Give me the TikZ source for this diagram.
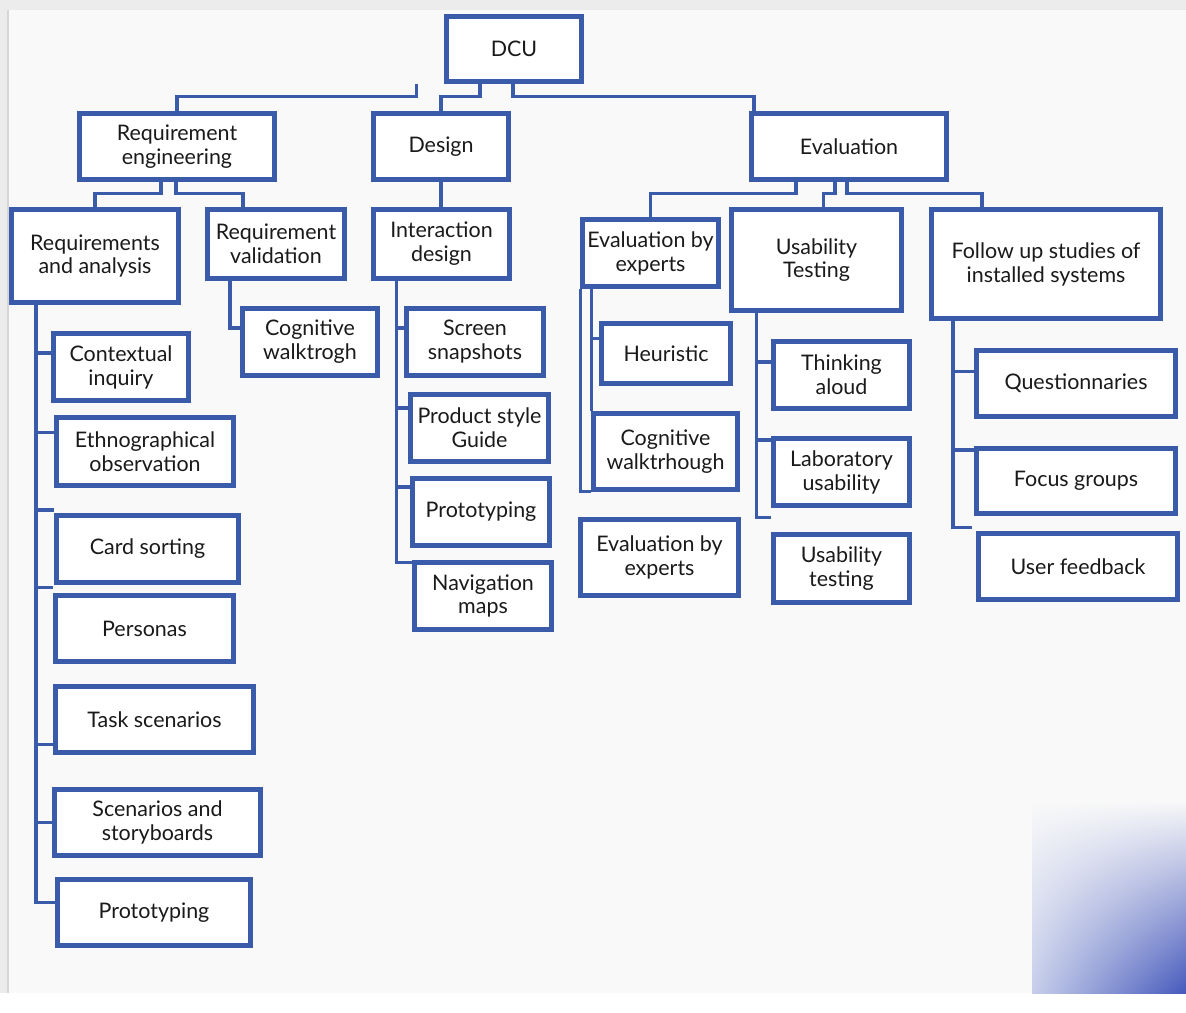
\documentclass[tikz,border=0pt]{standalone}
\usepackage{fontspec}
\setmainfont{Lato}
\usetikzlibrary{calc,shadings}

\definecolor{dcuBlue}{HTML}{3A5BA9}
\definecolor{dcuText}{HTML}{1A1A1A}
\definecolor{bgGray}{HTML}{ECECEC}
\definecolor{bgInner}{HTML}{F9F9F9}
\definecolor{bgEdge}{HTML}{D6D6D6}
\definecolor{cornerBlue}{HTML}{4659BC}
\definecolor{cornerPale}{HTML}{C6CEEA}

\tikzset{
  box/.style={draw=dcuBlue, line width=2.4pt, fill=white, align=center,
    inner sep=1pt, text=dcuText, font=\fontsize{12.2}{13.6}\selectfont},
  link/.style={draw=dcuBlue, line width=2pt},
}

\begin{document}
\begin{tikzpicture}[x=0.02cm,y=-0.02cm]
\useasboundingbox (0,0) rectangle (1186,1012);
% page behind the chart
\fill[white] (0,0) rectangle (1186,1012);
\fill[bgGray] (0,0) rectangle (1186,993);
\fill[bgInner] (8,10) rectangle (1186,993);
\draw[bgEdge, line width=1.2pt] (8,10) -- (8,993);
\shade[upper left=bgInner, upper right=bgInner, lower left=cornerPale, lower right=cornerBlue]
  (1032,800) rectangle (1186,993);

% top levels
\node[box, minimum width=2.70cm, minimum height=1.30cm] (dcu) at (514,49) {DCU};
\node[box, minimum width=3.90cm, minimum height=1.32cm] (reqeng) at (177,146.5) {Requirement\\engineering};
\node[box, minimum width=2.70cm, minimum height=1.32cm] (design) at (441,146.5) {Design};
\node[box, minimum width=3.90cm, minimum height=1.32cm] (eval) at (849,146.5) {Evaluation};

\node[box, minimum width=3.34cm, minimum height=1.86cm] (reqan) at (95,256) {Requirements\\and analysis};
\node[box, minimum width=2.74cm, minimum height=1.38cm] (reqval) at (276,244) {Requirement\\validation};
\node[box, minimum width=2.72cm, minimum height=1.38cm] (intdes) at (441.5,244) {Interaction\\design};
\node[box, minimum width=2.72cm, minimum height=1.34cm] (expA) at (650.5,253) {Evaluation by\\experts};
\node[box, minimum width=3.40cm, minimum height=2.02cm] (usab) at (816.5,260) {Usability\\Testing};
\node[box, minimum width=4.58cm, minimum height=2.18cm] (follow) at (1046,264) {Follow up studies of\\installed systems};

% requirements and analysis
\node[box, minimum width=2.70cm, minimum height=1.34cm] (ctxinq) at (121,367) {Contextual\\inquiry};
\node[box, minimum width=3.54cm, minimum height=1.36cm] (ethno) at (145,451.5) {Ethnographical\\observation};
\node[box, minimum width=3.64cm, minimum height=1.34cm] (card) at (147.5,549) {Card sorting};
\node[box, minimum width=3.56cm, minimum height=1.32cm] (personas) at (144.5,628.5) {Personas};
\node[box, minimum width=3.96cm, minimum height=1.32cm] (task) at (154.5,719.5) {Task scenarios};
\node[box, minimum width=4.12cm, minimum height=1.32cm] (scen) at (157.5,822.5) {Scenarios and\\storyboards};
\node[box, minimum width=3.86cm, minimum height=1.32cm] (protoA) at (154,912.5) {Prototyping};

\node[box, minimum width=2.70cm, minimum height=1.34cm] (cogA) at (310,342) {Cognitive\\walktrogh};

% interaction design
\node[box, minimum width=2.74cm, minimum height=1.34cm] (screen) at (475,342) {Screen\\snapshots};
\node[box, minimum width=2.76cm, minimum height=1.34cm] (style) at (479.5,428) {Product style\\Guide};
\node[box, minimum width=2.74cm, minimum height=1.34cm] (protoB) at (481,512) {Prototyping};
\node[box, minimum width=2.74cm, minimum height=1.34cm] (navmap) at (483,596) {Navigation\\maps};

% evaluation
\node[box, minimum width=2.58cm, minimum height=1.20cm] (heur) at (666,353.5) {Heuristic};
\node[box, minimum width=2.88cm, minimum height=1.52cm] (cogB) at (665.5,451.5) {Cognitive\\walktrhough};
\node[box, minimum width=3.16cm, minimum height=1.52cm] (expB) at (659.5,557.5) {Evaluation by\\experts};
\node[box, minimum width=2.72cm, minimum height=1.34cm] (think) at (841.5,375) {Thinking\\aloud};
\node[box, minimum width=2.72cm, minimum height=1.34cm] (lab) at (841.5,472) {Laboratory\\usability};
\node[box, minimum width=2.72cm, minimum height=1.36cm] (usabB) at (841.5,568.5) {Usability\\testing};
\node[box, minimum width=3.98cm, minimum height=1.32cm] (quest) at (1076,383.5) {Questionnaries};
\node[box, minimum width=3.98cm, minimum height=1.30cm] (focus) at (1076,481) {Focus groups};
\node[box, minimum width=3.98cm, minimum height=1.32cm] (userfb) at (1078,566.5) {User feedback};

% elbows from the root
\coordinate (dcuL) at ($(dcu.south west)+(-28,0)$);
\draw[link] (dcuL) -- ++(0,13) -| (reqeng.north);
\draw[link] ($(dcu.south)+(-34,0)$) -- ++(0,13) -| (design.north);
\draw[link] ($(dcu.south)+(-1,0)$) -- ++(0,13) -| ($(eval.north)+(-95,0)$);

\draw[link] ($(reqeng.south)+(-16,0)$) -- ++(0,12) -| (reqan.north);
\draw[link] ($(reqeng.south)+(-1,0)$) -- ++(0,12) -| ($(reqval.north)+(-33,0)$);
\draw[link] (design.south) -- (design.south |- intdes.north);

\draw[link] ($(eval.south)+(-53,0)$) -- ++(0,12) -| (expA.north);
\draw[link] ($(eval.south)+(-14,0)$) -- ++(0,12) -| ($(usab.north)+(7,0)$);
\draw[link] ($(eval.south)+(-2,0)$) -- ++(0,12) -| ($(follow.north)+(-64,0)$);

% side rails
\coordinate (raTop) at ($(reqan.south)+(-59,0)$);
\draw[link] (raTop) |- ($(protoA.west)+(0,-10)$);
\foreach \n/\dy in {ctxinq/-14, ethno/-19, card/-39, personas/-41, task/25, scen/0}{
  \path ($(\n.west)+(0,\dy)$) coordinate (tk);
  \draw[link] (raTop |- tk) -- (tk);
}

\draw[link] ($(reqval.south)+(-46,0)$) |- ($(cogA.west)+(0,-14)$);

\coordinate (idTop) at ($(intdes.south)+(-45,0)$);
\draw[link] (idTop) |- ($(navmap.north west)+(0,2)$);
\foreach \n/\dy in {screen/-14, style/-20, protoB/-25}{
  \path ($(\n.west)+(0,\dy)$) coordinate (tk);
  \draw[link] (idTop |- tk) -- (tk);
}

\draw[link] (expA.south west) |- (cogB.south west);
\coordinate (eeTop) at ($(expA.south west)+(11,0)$);
\draw[link] (eeTop) -- (eeTop |- cogB.north);
\path ($(heur.west)+(0,-15)$) coordinate (tk);
\draw[link] (eeTop |- tk) -- (tk);

\coordinate (utTop) at ($(usab.south)+(-60,0)$);
\draw[link] (utTop) |- ($(usabB.north west)+(0,-15)$);
\foreach \n/\dy in {think/-13, lab/-32}{
  \path ($(\n.west)+(0,\dy)$) coordinate (tk);
  \draw[link] (utTop |- tk) -- (tk);
}

\coordinate (fuTop) at ($(follow.south)+(-93,0)$);
\draw[link] (fuTop) |- ($(userfb.north west)+(-4,-4)$);
\foreach \n/\dy in {quest/-12, focus/-31}{
  \path ($(\n.west)+(0,\dy)$) coordinate (tk);
  \draw[link] (fuTop |- tk) -- (tk);
}
\end{tikzpicture}
\end{document}
